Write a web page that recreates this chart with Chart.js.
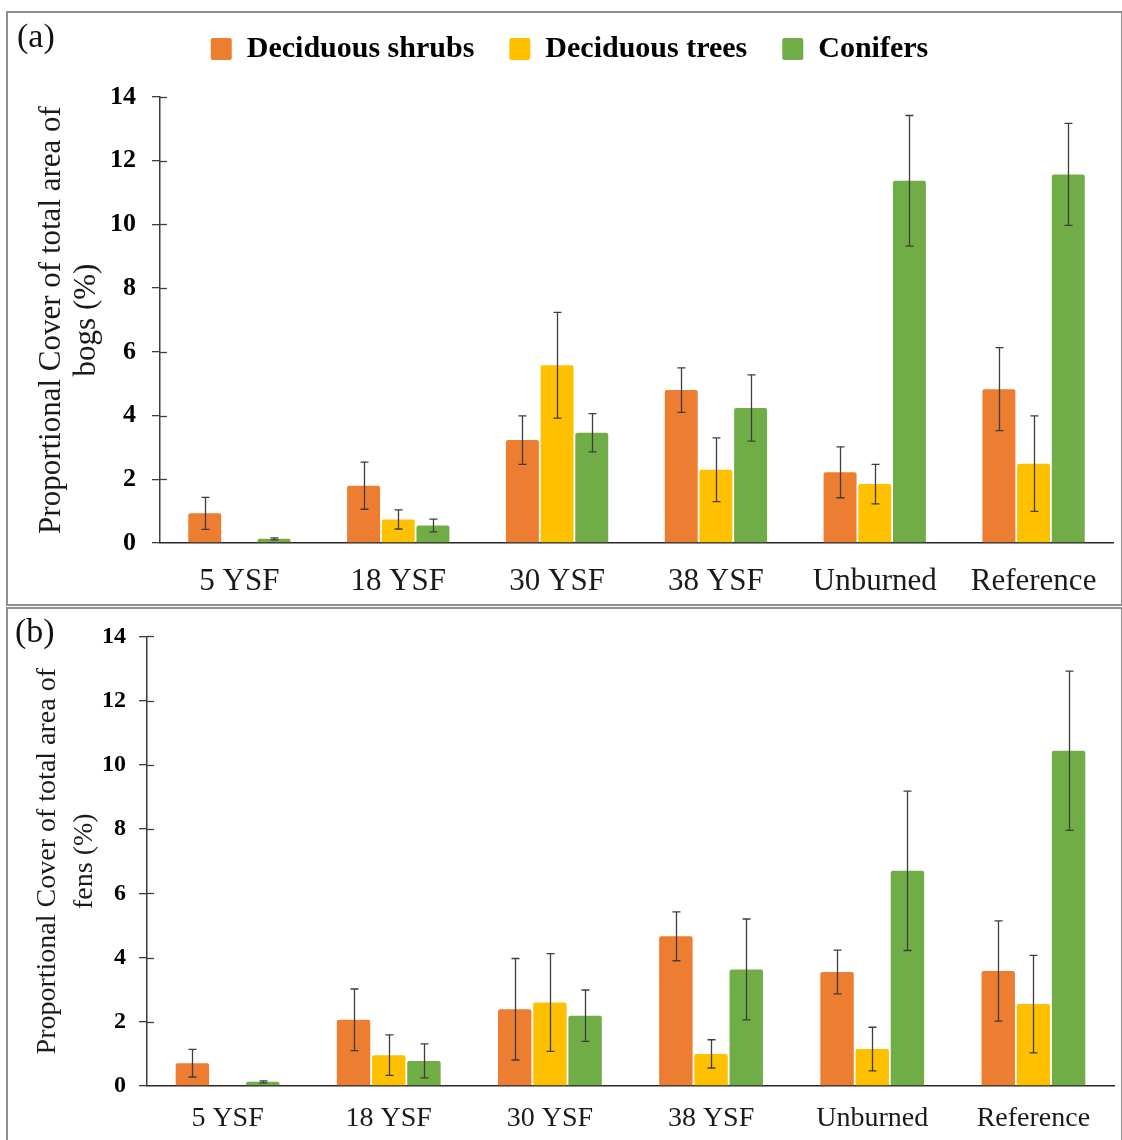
<!DOCTYPE html>
<html>
<head>
<meta charset="utf-8">
<title>Proportional cover – bogs and fens</title>
<script src="https://cdn.jsdelivr.net/npm/chart.js@4.4.1/dist/chart.umd.min.js"></script>
<style>
    body {
        margin: 0;
        background: #fff;
        width: 1122px;
        height: 1140px;
        overflow: hidden;
        position: relative;
        font-family: 'Liberation Serif', 'Times New Roman', serif;
    }
    .panel {
        position: absolute;
        left: 6px;
        width: 1113px;
        border: 2px solid #8f8f8f;
        background: #fff;
    }
    #panelA { top: 11px; height: 591px; }
    #panelB { top: 607px; height: 538px; }
    .panel canvas { position: absolute; left: 0; top: 0; }
    .tag {
        position: absolute;
        font-size: 34px;
        line-height: 34px;
        color: #111;
    }
</style>
</head>
<body>
<div class="panel" id="panelA"><canvas id="bogsChart" width="1113" height="591"></canvas></div>
<div class="panel" id="panelB"><canvas id="fensChart" width="1113" height="538"></canvas></div>
<div class="tag" style="left:17px; top:19px;">(a)</div>
<div class="tag" style="left:15px; top:614px;">(b)</div>

<script>
// categories and tick values
const categories = ['5 YSF', '18 YSF', '30 YSF', '38 YSF', 'Unburned', 'Reference'];
const yTicks = [0, 2, 4, 6, 8, 10, 12, 14];

// (a) bogs - means and error (+/-)
const bogShrubs = [0.93, 1.80, 3.23, 4.80, 2.22, 4.83];
const bogShrubsErr = [0.50, 0.74, 0.76, 0.70, 0.80, 1.30];
const bogTrees = [0, 0.74, 5.58, 2.30, 1.85, 2.49];
const bogTreesErr = [0, 0.30, 1.66, 1.00, 0.62, 1.50];
const bogConifers = [0.13, 0.55, 3.46, 4.24, 11.37, 11.57];
const bogConifersErr = [0.03, 0.20, 0.60, 1.04, 2.05, 1.60];

// (b) fens - means and error (+/-)
const fenShrubs = [0.71, 2.06, 2.39, 4.66, 3.55, 3.58];
const fenShrubsErr = [0.43, 0.96, 1.58, 0.76, 0.68, 1.56];
const fenTrees = [0, 0.96, 2.60, 1.00, 1.15, 2.55];
const fenTreesErr = [0, 0.63, 1.52, 0.44, 0.68, 1.52];
const fenConifers = [0.13, 0.78, 2.19, 3.63, 6.70, 10.44];
const fenConifersErr = [0.03, 0.53, 0.80, 1.57, 2.48, 2.48];

const colors = {
    shrubs: '#ED7D31',
    trees: '#FFC000',
    conifers: '#70AD47'
};
const serif = "'Liberation Serif', 'Times New Roman', serif";

// error bars drawn from the y scale
const errorBars = {
    id: 'errorBars',
    afterDatasetsDraw(chart) {
        const ctx = chart.ctx;
        const yScale = chart.scales.y;
        ctx.save();
        ctx.strokeStyle = '#3d3d3d';
        ctx.lineWidth = 1.3;
        chart.data.datasets.forEach((ds, i) => {
            const meta = chart.getDatasetMeta(i);
            meta.data.forEach((bar, j) => {
                const err = ds.errors[j];
                if (!err) return;
                const v = ds.data[j];
                const top = yScale.getPixelForValue(v + err);
                const bottom = yScale.getPixelForValue(Math.max(v - err, 0));
                const x = Math.round(bar.x) + 0.5;
                ctx.beginPath();
                ctx.moveTo(x, top);
                ctx.lineTo(x, bottom);
                ctx.moveTo(x - 4, top);
                ctx.lineTo(x + 4, top);
                ctx.moveTo(x - 4, bottom);
                ctx.lineTo(x + 4, bottom);
                ctx.stroke();
            });
        });
        ctx.restore();
    }
};

// the small tick marks that cross into the plot area
const innerTicks = {
    id: 'innerTicks',
    afterDraw(chart) {
        const ctx = chart.ctx;
        const yScale = chart.scales.y;
        const left = chart.chartArea.left;
        ctx.save();
        ctx.strokeStyle = '#3d3d3d';
        ctx.lineWidth = 1.3;
        yTicks.forEach(t => {
            if (t === 0) return;
            const y = Math.round(yScale.getPixelForValue(t)) + 0.5;
            ctx.beginPath();
            ctx.moveTo(left, y);
            ctx.lineTo(left + 7, y);
            ctx.stroke();
        });
        ctx.restore();
    }
};

// extra room under the legend
const legendGap = {
    id: 'legendGap',
    beforeInit(chart) {
        const fit = chart.legend.fit;
        chart.legend.fit = function () {
            fit.call(this);
            this.height += chart.options.plugins.legendGap.gap;
        };
    }
};

function makeDatasets(shrubs, shrubsErr, trees, treesErr, conifers, conifersErr) {
    const base = {
        borderWidth: 0,
        borderRadius: 2,
        categoryPercentage: 0.655,
        barPercentage: 0.95
    };
    return [
        Object.assign({ label: 'Deciduous shrubs', data: shrubs, errors: shrubsErr, backgroundColor: colors.shrubs }, base),
        Object.assign({ label: 'Deciduous trees', data: trees, errors: treesErr, backgroundColor: colors.trees }, base),
        Object.assign({ label: 'Conifers', data: conifers, errors: conifersErr, backgroundColor: colors.conifers }, base)
    ];
}

function makeOptions(cfg) {
    return {
        responsive: false,
        animation: false,
        layout: { padding: cfg.padding },
        plugins: {
            legend: {
                display: cfg.legend,
                position: 'top',
                labels: {
                    color: '#000',
                    font: { family: serif, size: 30, weight: 'bold' },
                    boxWidth: 21,
                    boxHeight: 22,
                    padding: 35,
                    useBorderRadius: true,
                    borderRadius: 2
                }
            },
            legendGap: { gap: cfg.legendGap || 0 },
            tooltip: { enabled: false }
        },
        scales: {
            x: {
                grid: { display: false },
                border: { display: true, color: '#262626', width: 1.5 },
                ticks: {
                    color: '#1a1a1a',
                    font: { family: serif, size: cfg.xFont },
                    padding: cfg.xPad,
                    maxRotation: 0,
                    autoSkip: false
                },
                afterFit(scale) { scale.height = cfg.xHeight; }
            },
            y: {
                min: 0,
                max: 14,
                ticks: {
                    stepSize: 2,
                    color: '#000',
                    font: { family: serif, size: cfg.yFont, weight: 'bold' },
                    padding: cfg.yPad
                },
                grid: {
                    drawOnChartArea: false,
                    drawTicks: true,
                    tickLength: 8,
                    color: '#3d3d3d',
                    lineWidth: 1.3
                },
                border: { display: true, color: '#3d3d3d', width: 1.5 },
                title: {
                    display: true,
                    text: cfg.title,
                    color: '#1a1a1a',
                    font: { family: serif, size: cfg.titleFont, lineHeight: cfg.titleLine },
                    padding: { top: cfg.titlePad, bottom: 0 }
                },
                afterFit(scale) { scale.width = cfg.yWidth; }
            }
        }
    };
}

document.addEventListener('DOMContentLoaded', () => {
    const bogsCtx = document.getElementById('bogsChart').getContext('2d');
    const fensCtx = document.getElementById('fensChart').getContext('2d');

    const bogsChart = new Chart(bogsCtx, {
        type: 'bar',
        data: {
            labels: categories,
            datasets: makeDatasets(bogShrubs, bogShrubsErr, bogTrees, bogTreesErr, bogConifers, bogConifersErr)
        },
        options: makeOptions({
            legend: true,
            legendGap: 23,
            padding: { top: -14, left: 18, right: 8, bottom: 0 },
            title: ['Proportional Cover of total area of', 'bogs (%)'],
            titleFont: 31,
            titleLine: 1.14,
            titlePad: 8,
            yWidth: 134,
            yFont: 26,
            yPad: 16,
            xHeight: 61,
            xFont: 31,
            xPad: 12
        }),
        plugins: [errorBars, innerTicks, legendGap]
    });

    const fensChart = new Chart(fensCtx, {
        type: 'bar',
        data: {
            labels: categories,
            datasets: makeDatasets(fenShrubs, fenShrubsErr, fenTrees, fenTreesErr, fenConifers, fenConifersErr)
        },
        options: makeOptions({
            legend: false,
            padding: { top: 18, left: 0, right: 7, bottom: 0 },
            title: ['Proportional Cover of total area of', 'fens (%)'],
            titleFont: 28,
            titleLine: 1.32,
            titlePad: 21,
            yWidth: 139,
            yFont: 24,
            yPad: 13,
            xHeight: 61,
            xFont: 28,
            xPad: 8
        }),
        plugins: [errorBars, innerTicks]
    });
});
</script>
</body>
</html>
